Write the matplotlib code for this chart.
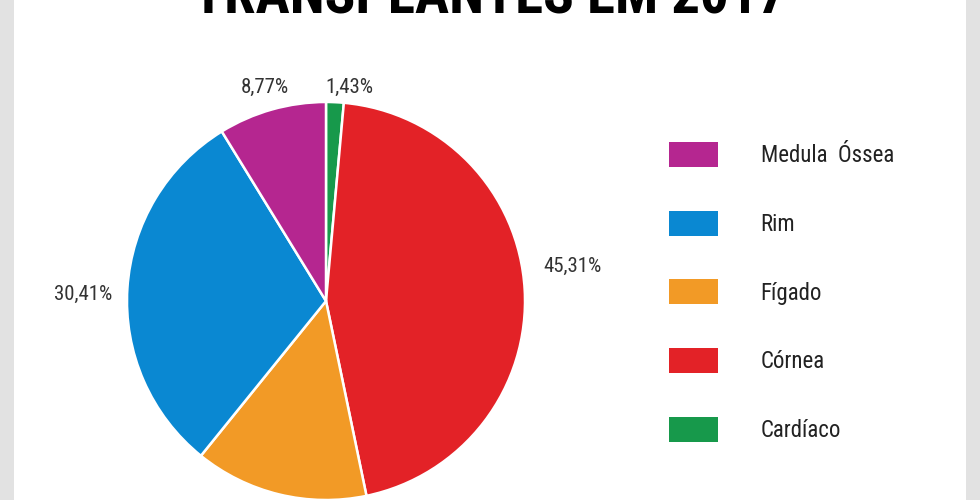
import matplotlib.pyplot as plt
from matplotlib.patches import Rectangle

# data (pie order, clockwise from the top)
categorias = ["Cardíaco", "Córnea", "Fígado", "Rim", "Medula  Óssea"]
percentuais = [1.43, 45.31, 14.08, 30.41, 8.77]
cores = ["#17994b", "#e32227", "#f29a26", "#0a88d2", "#b52690"]

# where each percentage label sits (pie radius units); Fígado's falls below the picture
pos_rotulos = [(0.116, 1.075), (1.241, 0.176), None, (-1.221, 0.033), (-0.309, 1.075)]

fonte = ["Roboto Condensed", "Archivo Narrow", "Liberation Sans Narrow", "DejaVu Sans"]

fig = plt.figure(figsize=(9.8, 5), dpi=100)
fig.patch.set_facecolor("#e2e2e2")
fig.add_artist(Rectangle((14 / 980, 0), 952 / 980, 1, transform=fig.transFigure,
                         facecolor="white", edgecolor="none", zorder=0))

ax = fig.add_axes([0, 0, 1, 1])
ax.patch.set_alpha(0)
fatias, _ = ax.pie(percentuais, colors=cores, startangle=90, counterclock=False,
                   wedgeprops=dict(edgecolor="white", linewidth=1.8))

for pos, p in zip(pos_rotulos, percentuais):
    if pos is None:
        continue
    ax.text(pos[0], pos[1], f"{p:.2f}%".replace(".", ","), ha="center", va="center",
            fontsize=15, color="#333333", family=fonte, fontstretch="condensed")

ax.set_aspect("auto")
ax.set_xlim(-326 / 199, (980 - 326) / 199)
ax.set_ylim(-(500 - 301) / 199, 301 / 199)
ax.axis("off")

fig.text(0.5, 1 - 13 / 500, "TRANSPLANTES EM 2017", ha="center", va="baseline",
         fontsize=41, fontweight="bold", color="black", family=fonte,
         fontstretch="condensed")

ordem = [4, 3, 2, 1, 0]
leg = fig.legend([fatias[i] for i in ordem], [categorias[i] for i in ordem],
                 loc="center left", bbox_to_anchor=(669 / 980, 1 - 292 / 500),
                 frameon=False, handlelength=2.15, handleheight=1.3,
                 handletextpad=1.85, labelspacing=1.9, borderpad=0, borderaxespad=0,
                 prop=dict(family=fonte, size=16.5, stretch="condensed"))
for h in leg.legend_handles:
    h.set_edgecolor("none")
for t in leg.get_texts():
    t.set_color("#222222")

fig.savefig("out.png", dpi=100)
